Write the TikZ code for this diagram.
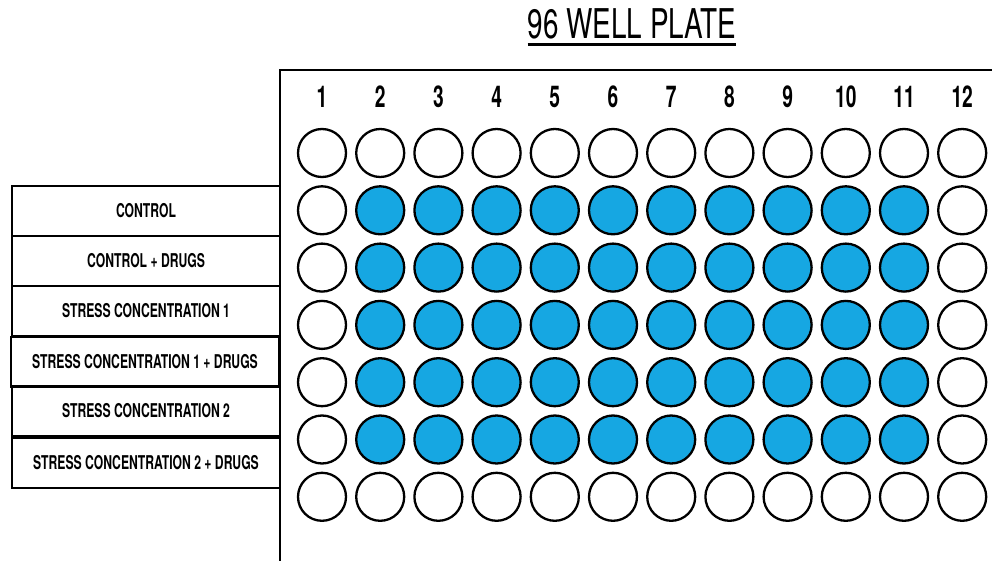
\documentclass[tikz,border=0pt]{standalone}
\usepackage{fontspec}
\setmainfont{TeX Gyre Heros}[FakeStretch=0.64]
\newfontfamily\headfont{TeX Gyre Heros}[FakeStretch=0.68]
\definecolor{wellblue}{RGB}{22,167,226}
\tikzset{
  well/.style={circle,draw,line width=2.3pt,minimum size=48pt,inner sep=0pt},
  drugwell/.style={well,fill=wellblue},
  groupbox/.style={draw,line width=2.5pt,minimum width=268pt,minimum height=50pt,inner sep=0pt,
    font=\bfseries\fontsize{19}{19}\selectfont},
  colnum/.style={font=\bfseries\fontsize{30}{30}\selectfont},
}
\begin{document}
\begin{tikzpicture}[x=1pt,y=-1pt]
  \useasboundingbox (0,0) rectangle (992,561);

  % Title
  \node[anchor=base,inner sep=0pt,font=\headfont\fontsize{41}{41}\selectfont] (title) at (632,39) {96 WELL PLATE};
  \draw[line width=3pt] ([yshift=-6pt]title.base west) -- ([yshift=-6pt]title.base east);

  % Plate outline
  \draw[line width=2.5pt] (992,70) -- (280,70) -- (280,561);

  % Column numbers
  \foreach \c in {1,...,12}
    \node[colnum] (num\c) at ({322+(\c-1)*58.2},97) {\c};

  % Wells
  \foreach \r in {1,...,7}
    \foreach \c in {1,...,12} {
      \pgfmathtruncatemacro{\inner}{(\r>1)*(\r<7)*(\c>1)*(\c<12)}
      \ifnum\inner=1
        \node[drugwell] (w\r-\c) at ({322+(\c-1)*58.2},{153+(\r-1)*57.3}) {};
      \else
        \node[well] (w\r-\c) at ({322+(\c-1)*58.2},{153+(\r-1)*57.3}) {};
      \fi
    }

  % Row labels
  \node[groupbox] (ctrl) at (146,211) {CONTROL};
  \node[groupbox] (ctrldrug) at (146,261) {CONTROL + DRUGS};
  \node[groupbox] (stressa) at (146,311) {STRESS CONCENTRATION 1};
  \node[groupbox] (stressadrug) at (145,362) {STRESS CONCENTRATION 1 + DRUGS};
  \node[groupbox] (stressb) at (146,411) {STRESS CONCENTRATION 2};
  \node[groupbox] (stressbdrug) at (146,463) {STRESS CONCENTRATION 2 + DRUGS};
\end{tikzpicture}
\end{document}
